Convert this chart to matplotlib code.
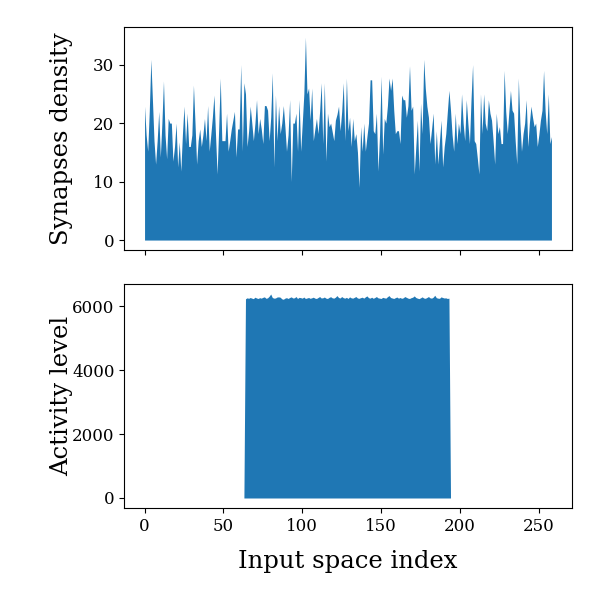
import numpy as np
import matplotlib
matplotlib.use("Agg")
import matplotlib.pyplot as plt

plt.rcParams['font.family'] = ['DejaVu Serif']

density = [
    22.9, 18, 15.2, 22, 30.9, 24, 17, 13, 17, 22,
    14.2, 20, 27.2, 18, 13.9, 20.8, 20, 20, 13.5, 16,
    20, 12.5, 16.8, 11.8, 18, 22.9, 16.5, 21.7, 16, 16,
    18, 26.5, 20, 13, 17, 19, 16, 18, 20.8, 17,
    23, 15.2, 18, 21, 24.8, 18, 11.3, 19, 27.7, 17,
    17, 17, 21.7, 15.2, 17, 19, 20.5, 22, 14.2, 19,
    19, 30, 15.2, 26.9, 25, 16, 18.7, 22.9, 20, 17,
    20, 24, 18.2, 20.8, 19, 16.5, 23, 23, 22.2, 17,
    21, 28.6, 12.5, 24.8, 17, 23, 18.2, 20, 23, 19.4,
    15.2, 18, 24, 10, 20, 20, 21.7, 15.2, 24, 15.2,
    20, 25, 34.7, 25, 26, 20.5, 26, 17, 19, 20.8,
    18.2, 22, 26.9, 16.5, 26.9, 13.5, 21.7, 19.4, 20, 18.5,
    17, 20.5, 21.5, 22.9, 18.7, 22, 26.9, 17, 27.7, 18.7,
    21, 16, 20.8, 17, 18.2, 15, 9, 19.4, 15.2, 20,
    15.2, 17.7, 20, 27.4, 27.4, 18.7, 18.2, 21.7, 11.8, 18,
    28, 14.7, 20.8, 20, 23, 27.7, 25.6, 27.7, 22.2, 18.2,
    18.7, 18.7, 16.5, 24.8, 24, 24, 21, 23, 29.8, 22.2,
    22.9, 11.3, 16, 20.5, 11.8, 23.4, 18.2, 30.9, 26, 22.9,
    21, 16.5, 19, 21.7, 13, 18.7, 13, 17, 20.5, 12.5,
    16, 18.2, 22, 25.6, 22.2, 18, 15.2, 21.7, 16.5, 20,
    18.2, 25, 20, 17, 24, 20, 16.5, 24, 30, 17,
    16.5, 14, 11.3, 25, 18.2, 25, 20, 18.7, 24, 21.7,
    20.5, 17, 13, 21.7, 18.2, 19.4, 16.5, 16.5, 29, 22,
    18.2, 22, 25.6, 22.2, 21.7, 17, 13, 27.7, 20, 15.2,
    18.2, 20, 24, 16, 20, 22.9, 21, 19.4, 20, 16,
    18, 20.5, 22.2, 29, 22, 18.2, 25, 16.5, 17.7,
]

active_start = 64
active_values = [
    6230, 6260, 6245, 6270, 6250, 6235, 6280, 6255, 6240, 6265,
    6250, 6275, 6290, 6245, 6260, 6310, 6380, 6270, 6250, 6255,
    6285, 6290, 6280, 6230, 6215, 6250, 6265, 6240, 6270, 6290,
    6255, 6260, 6300, 6240, 6275, 6265, 6250, 6285, 6240, 6255,
    6270, 6245, 6260, 6280, 6250, 6240, 6270, 6300, 6255, 6260,
    6285, 6250, 6240, 6275, 6295, 6260, 6250, 6280, 6330, 6270,
    6255, 6300, 6265, 6250, 6275, 6240, 6290, 6260, 6250, 6275,
    6300, 6255, 6245, 6265, 6280, 6250, 6290, 6320, 6265, 6250,
    6280, 6245, 6270, 6300, 6260, 6250, 6240, 6275, 6260, 6250,
    6295, 6330, 6270, 6255, 6240, 6265, 6285, 6250, 6270, 6245,
    6260, 6300, 6275, 6250, 6240, 6265, 6280, 6320, 6270, 6250,
    6235, 6260, 6290, 6255, 6245, 6270, 6300, 6260, 6250, 6280,
    6340, 6265, 6250, 6245, 6290, 6270, 6255, 6260, 6240, 6250,
]

n = len(density)
x = np.arange(n)
activity = np.zeros(n)
activity[active_start:active_start + len(active_values)] = active_values

fig = plt.figure(figsize=(6, 6), dpi=100)
ax1 = fig.add_axes([0.207, 0.583, 0.746, 0.372])
ax2 = fig.add_axes([0.207, 0.153, 0.746, 0.374], sharex=ax1)

color = '#1f77b4'
ax1.fill_between(x, 0, density, color=color, linewidth=0)
ax2.fill_between(x, 0, activity, color=color, linewidth=0)

ax1.set_ylabel('Synapses density', fontsize=17.5)
ax2.set_ylabel('Activity level', fontsize=17.5)
ax2.set_xlabel('Input space index', fontsize=17.5, labelpad=11)
ax1.set_yticks([0, 10, 20, 30])
ax2.set_yticks([0, 2000, 4000, 6000])
ax2.set_xticks([0, 50, 100, 150, 200, 250])
plt.setp(ax1.get_xticklabels(), visible=False)
for ax in (ax1, ax2):
    ax.tick_params(labelsize=12)
    ax.yaxis.set_label_coords(-0.115, 0.5)

fig.savefig('out.png', dpi=100)
